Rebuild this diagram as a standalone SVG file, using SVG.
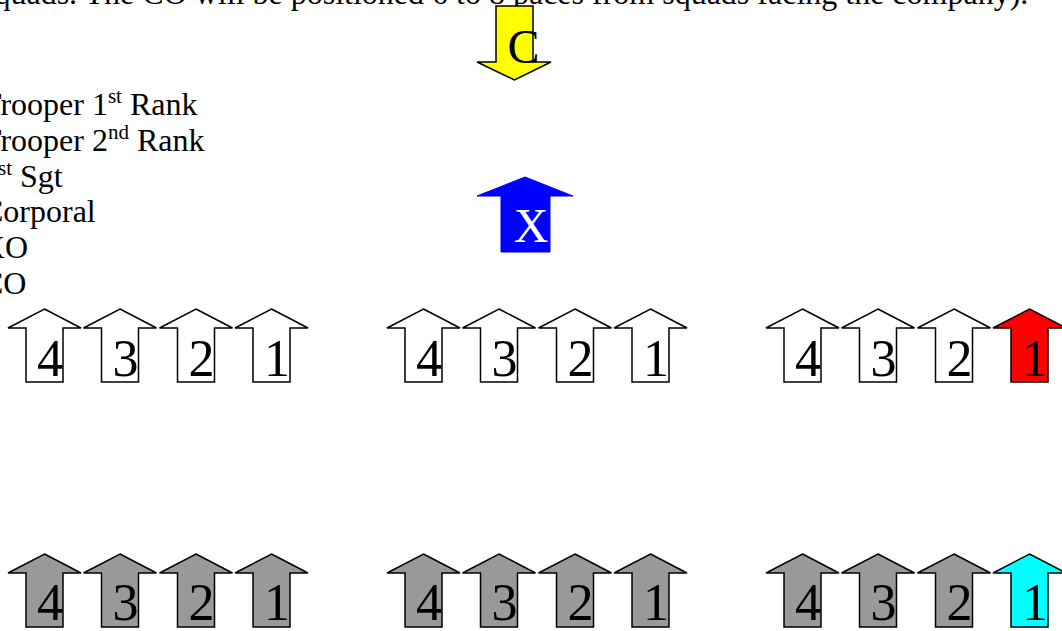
<svg xmlns="http://www.w3.org/2000/svg" xmlns:xlink="http://www.w3.org/1999/xlink" width="1062" height="631" viewBox="0 0 1062 631">
<style>
  .txt { font-family: "Liberation Serif", "Times New Roman", serif; font-size: 32px; fill: #000; }
  .num { font-family: "Liberation Serif", "Times New Roman", serif; font-size: 52px; fill: #000; text-anchor: middle; }
  .big { font-family: "Liberation Serif", "Times New Roman", serif; font-size: 48px; text-anchor: middle; }
  .arr { stroke: #000; stroke-width: 1.5; stroke-linejoin: miter; }
  .white { fill: #ffffff; }
  .gray { fill: #999999; }
  .red { fill: #ff0000; }
  .cyan { fill: #00ffff; }
</style>
<defs>
  <path id="up" d="M0,0 L36.5,19 L18.5,19 L18.5,73 L-18.5,73 L-18.5,19 L-36.5,19 Z"/>
</defs>
<rect x="0" y="0" width="1062" height="631" fill="#ffffff"/>

<g id="header">
  <text class="txt" x="-18" y="4">squads. The CO will be positioned 6 to 8 paces from squads facing the company).</text>
</g>

<g id="legend">
  <text class="txt" x="-18" y="115">Trooper 1<tspan dy="-12" font-size="21">st</tspan><tspan dy="12"> Rank</tspan></text>
  <text class="txt" x="-18" y="151">Trooper 2<tspan dy="-12" font-size="21">nd</tspan><tspan dy="12"> Rank</tspan></text>
  <text class="txt" x="-18" y="187">1<tspan dy="-12" font-size="21">st</tspan><tspan dy="12"> Sgt</tspan></text>
  <text class="txt" x="-18" y="222">Corporal</text>
  <text class="txt" x="-18" y="258">XO</text>
  <text class="txt" x="-18" y="294">CO</text>
</g>

<g id="connectors"></g>

<g id="co">
  <path d="M496,6 L533,6 L533,62 L551,62 L514.5,80 L477,62 L496,62 Z" fill="#ffff00" class="arr"/>
  <text class="big" x="523.5" y="63" fill="#000">C</text>
</g>

<g id="xo">
  <path d="M525,177 L573,196 L550,196 L550,252 L501,252 L501,196 L477,196 Z" fill="#0000ff" stroke="#0000ff" stroke-width="1"/>
  <text class="big" x="531" y="242" fill="#ffffff">X</text>
</g>

<!-- Top row (1st rank) -->
<g id="r1-g1-4"><use href="#up" x="44.5" y="309" class="arr white"/><text class="num" x="50" y="376">4</text></g>
<g id="r1-g1-3"><use href="#up" x="120" y="309" class="arr white"/><text class="num" x="125.5" y="376">3</text></g>
<g id="r1-g1-2"><use href="#up" x="196" y="309" class="arr white"/><text class="num" x="201.5" y="376">2</text></g>
<g id="r1-g1-1"><use href="#up" x="271.5" y="309" class="arr white"/><text class="num" x="277" y="376">1</text></g>

<g id="r1-g2-4"><use href="#up" x="423.5" y="309" class="arr white"/><text class="num" x="429" y="376">4</text></g>
<g id="r1-g2-3"><use href="#up" x="499" y="309" class="arr white"/><text class="num" x="504.5" y="376">3</text></g>
<g id="r1-g2-2"><use href="#up" x="575" y="309" class="arr white"/><text class="num" x="580.5" y="376">2</text></g>
<g id="r1-g2-1"><use href="#up" x="650.5" y="309" class="arr white"/><text class="num" x="656" y="376">1</text></g>

<g id="r1-g3-4"><use href="#up" x="802.5" y="309" class="arr white"/><text class="num" x="808" y="376">4</text></g>
<g id="r1-g3-3"><use href="#up" x="878" y="309" class="arr white"/><text class="num" x="883.5" y="376">3</text></g>
<g id="r1-g3-2"><use href="#up" x="954" y="309" class="arr white"/><text class="num" x="959.5" y="376">2</text></g>
<g id="r1-g3-1"><use href="#up" x="1029.5" y="309" class="arr red"/><text class="num" x="1035" y="376">1</text></g>

<!-- Bottom row (2nd rank) -->
<g id="r2-g1-4"><use href="#up" x="44.5" y="554" class="arr gray"/><text class="num" x="50" y="620">4</text></g>
<g id="r2-g1-3"><use href="#up" x="120" y="554" class="arr gray"/><text class="num" x="125.5" y="620">3</text></g>
<g id="r2-g1-2"><use href="#up" x="196" y="554" class="arr gray"/><text class="num" x="201.5" y="620">2</text></g>
<g id="r2-g1-1"><use href="#up" x="271.5" y="554" class="arr gray"/><text class="num" x="277" y="620">1</text></g>

<g id="r2-g2-4"><use href="#up" x="423.5" y="554" class="arr gray"/><text class="num" x="429" y="620">4</text></g>
<g id="r2-g2-3"><use href="#up" x="499" y="554" class="arr gray"/><text class="num" x="504.5" y="620">3</text></g>
<g id="r2-g2-2"><use href="#up" x="575" y="554" class="arr gray"/><text class="num" x="580.5" y="620">2</text></g>
<g id="r2-g2-1"><use href="#up" x="650.5" y="554" class="arr gray"/><text class="num" x="656" y="620">1</text></g>

<g id="r2-g3-4"><use href="#up" x="802.5" y="554" class="arr gray"/><text class="num" x="808" y="620">4</text></g>
<g id="r2-g3-3"><use href="#up" x="878" y="554" class="arr gray"/><text class="num" x="883.5" y="620">3</text></g>
<g id="r2-g3-2"><use href="#up" x="954" y="554" class="arr gray"/><text class="num" x="959.5" y="620">2</text></g>
<g id="r2-g3-1"><use href="#up" x="1029.5" y="554" class="arr cyan"/><text class="num" x="1035" y="620">1</text></g>
</svg>
